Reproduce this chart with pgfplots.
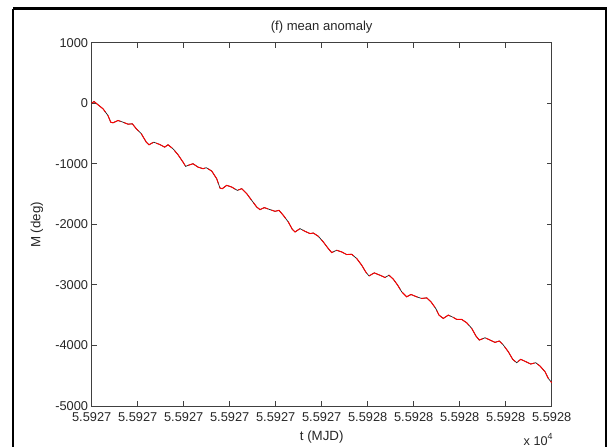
\documentclass[border=0pt]{standalone}
\usepackage{pgfplots}
\pgfplotsset{compat=1.18}
\usepackage{pgfplotstable}
\usepackage{fontspec}
\setmainfont{Liberation Sans}
\pgfplotstableread{
u M
0.0000 0
0.0050 28
0.0246 -92
0.0354 -203
0.0413 -313
0.0463 -323
0.0572 -285
0.0680 -313
0.0789 -346
0.0883 -340
0.0970 -422
0.1078 -504
0.1187 -643
0.1246 -686
0.1348 -643
0.1478 -681
0.1587 -725
0.1659 -686
0.1767 -752
0.1876 -850
0.1985 -972
0.2043 -1043
0.2093 -1027
0.2202 -999
0.2311 -1055
0.2420 -1081
0.2491 -1065
0.2609 -1120
0.2717 -1246
0.2789 -1401
0.2839 -1411
0.2935 -1356
0.3043 -1384
0.3165 -1439
0.3261 -1411
0.3370 -1493
0.3478 -1604
0.3587 -1714
0.3659 -1757
0.3752 -1724
0.3876 -1757
0.3985 -1785
0.4072 -1769
0.4165 -1851
0.4274 -1961
0.4361 -2082
0.4420 -2126
0.4528 -2071
0.4637 -2115
0.4746 -2153
0.4817 -2143
0.4926 -2197
0.5035 -2291
0.5143 -2400
0.5217 -2466
0.5326 -2428
0.5435 -2456
0.5543 -2499
0.5652 -2494
0.5761 -2565
0.5870 -2675
0.5957 -2786
0.6028 -2852
0.6143 -2802
0.6267 -2840
0.6376 -2878
0.6463 -2840
0.6557 -2906
0.6652 -3005
0.6739 -3115
0.6848 -3197
0.6941 -3158
0.7065 -3197
0.7174 -3224
0.7283 -3214
0.7376 -3280
0.7478 -3388
0.7550 -3499
0.7643 -3554
0.7752 -3499
0.7861 -3537
0.7935 -3570
0.8043 -3570
0.8152 -3625
0.8261 -3718
0.8354 -3845
0.8426 -3911
0.8550 -3873
0.8659 -3911
0.8767 -3949
0.8861 -3927
0.8948 -3993
0.9057 -4104
0.9152 -4229
0.9239 -4285
0.9326 -4229
0.9441 -4269
0.9543 -4307
0.9652 -4285
0.9746 -4340
0.9855 -4434
0.9926 -4543
1.0000 -4615
}\mydata
\begin{document}
\begin{tikzpicture}[x=0.75pt,y=-0.75pt]
\begin{axis}[
  at={(68.775pt,-304.5pt)}, anchor=south west,
  scale only axis, width=345pt, height=272.5pt,
  xmin=0, xmax=1, ymin=-5000, ymax=1000,
  xtick={0,0.1,0.2,0.3,0.4,0.5,0.6,0.7,0.8,0.9,1.0},
  xticklabels={5.5927,5.5927,5.5927,5.5927,5.5927,5.5927,5.5928,5.5928,5.5928,5.5928,5.5928},
  ytick={-5000,-4000,-3000,-2000,-1000,0,1000},
  yticklabels={-5000,-4000,-3000,-2000,-1000,0,1000},
  tick align=inside, major tick length=3.75pt,
  axis line style={black!75, line width=0.7pt},
  every tick/.style={black!75, line width=0.6pt},
  tick label style={font=\fontsize{9.6pt}{11pt}\selectfont, text=black!85},
  xticklabel style={inner sep=1.5pt, yshift=-3.5pt},
  yticklabel style={inner sep=2.5pt},
  clip=false,
]
\addplot[black!85, line width=0.55pt] table[x=u,y=M] {\mydata};
\addplot[red, line width=0.7pt, dash pattern=on 14pt off 2.5pt] table[x=u,y=M] {\mydata};
\end{axis}
\node[font=\fontsize{9.8pt}{11pt}\selectfont, text=black!85] at (321.7,27) {(f) mean anomaly};
\node[font=\fontsize{10pt}{12pt}\selectfont, text=black!85] at (321.7,437) {t (MJD)};
\node[font=\fontsize{10pt}{12pt}\selectfont, text=black!85, rotate=90] at (37,225) {M (deg)};
\node[font=\fontsize{9.5pt}{11pt}\selectfont, text=black!85, anchor=base west] at (519,445) {x 10\textsuperscript{4}};
\draw[line width=2.2pt] (13,8.5) -- (606,8.5) -- (606,480);
\draw[line width=2.2pt] (13,8.5) -- (13,480);
\pgfresetboundingbox
\path[use as bounding box] (0,0) rectangle (612,447);
\end{tikzpicture}
\end{document}
